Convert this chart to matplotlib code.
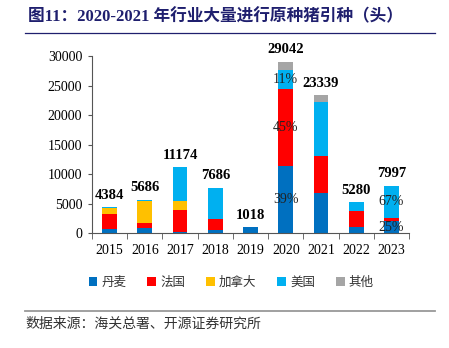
import matplotlib
matplotlib.use('Agg')
import numpy as np
import matplotlib.pyplot as plt
from matplotlib.lines import Line2D
from matplotlib.patches import Patch

years = ['2015', '2016', '2017', '2018', '2019', '2020', '2021', '2022', '2023']
denmark = [800, 850, 200, 600, 1018, 11326, 6900, 1000, 2000]
france = [2550, 900, 3700, 1800, 0, 13069, 6250, 2700, 640]
canada = [850, 3670, 1570, 0, 0, 0, 0, 0, 0]
usa = [184, 266, 5704, 5286, 0, 3195, 9150, 1580, 5357]
other = [0, 0, 0, 0, 0, 1452, 1039, 0, 0]
totals = [4384, 5686, 11174, 7686, 1018, 29042, 23339, 5280, 7997]

series_names = ['丹麦', '法国', '加拿大', '美国', '其他']
colors = ['#0070C0', '#FF0000', '#FFC000', '#00B0F0', '#A5A5A5']

# share labels written inside the bars: (year index, series index, text)
share_labels = [(5, 0, '39%'), (5, 1, '45%'), (5, 3, '11%'),
                (8, 0, '25%'), (8, 3, '67%')]

serif = ['Liberation Serif', 'Noto Sans CJK SC']
cjk = ['Noto Sans CJK SC', 'DejaVu Sans']

fig = plt.figure(figsize=(4.49, 3.48), dpi=100)
ax = fig.add_axes([0.205, 0.3296, 0.706, 0.5094])

x = np.arange(len(years))
data = [denmark, france, canada, usa, other]
bottom = np.zeros(len(years))
bottoms = []
for vals, c in zip(data, colors):
    vals = np.array(vals, dtype=float)
    ax.bar(x, vals, width=0.42, bottom=bottom, color=c, edgecolor='none')
    bottoms.append(bottom.copy())
    bottom += vals

for xi, t in zip(x, totals):
    ax.annotate(str(t), (xi, t), xytext=(0, 4), textcoords='offset points',
                ha='center', va='bottom', fontsize=10.5, fontweight='bold',
                family=serif, color='black')

for i, s, txt in share_labels:
    y = bottoms[s][i] + data[s][i] / 2
    ax.text(x[i], y, txt, ha='center', va='center', fontsize=10,
            family=serif, color='#222222')

ax.set_xlim(-0.5, len(years) - 0.5)
ax.set_ylim(0, 30000)
ax.set_yticks(np.arange(0, 30001, 5000))
ax.set_xticks(x)
ax.set_xticklabels(years)
ax.set_xticks(np.arange(-0.5, len(years), 1), minor=True)
ax.tick_params(axis='x', which='major', length=0, pad=8)
ax.tick_params(axis='x', which='minor', length=4, direction='out', color='#555555')
ax.tick_params(axis='y', length=3, direction='out', color='#555555', pad=4)
for lab in ax.get_xticklabels() + ax.get_yticklabels():
    lab.set_family(serif)
    lab.set_fontsize(10)
for side in ['top', 'right']:
    ax.spines[side].set_visible(False)
for side in ['left', 'bottom']:
    ax.spines[side].set_color('#555555')
    ax.spines[side].set_linewidth(0.8)

handles = [Patch(facecolor=c, edgecolor='none') for c in colors]
fig.legend(handles, series_names, loc='center', bbox_to_anchor=(0.515, 0.188),
           ncol=5, frameon=False, handlelength=0.7, handleheight=0.7,
           handletextpad=0.3, columnspacing=1.7,
           prop={'family': cjk, 'size': 9}, labelcolor='#333333')

fig.text(0.062, 0.951, '图11：2020-2021 年行业大量进行原种猪引种（头）',
         ha='left', va='center', fontsize=12, fontweight='bold',
         family=serif, color='#1F1F6E')
fig.add_artist(Line2D([0.056, 0.969], [0.905, 0.905], transform=fig.transFigure,
                      color='#1F1F6E', linewidth=0.9))
fig.add_artist(Line2D([0.056, 0.969], [0.107, 0.107], transform=fig.transFigure,
                      color='#999999', linewidth=1.3))
fig.text(0.056, 0.071, '数据来源：海关总署、开源证券研究所', ha='left', va='center',
         fontsize=10, family=cjk, color='#333333')

fig.savefig('out.png', dpi=100)
